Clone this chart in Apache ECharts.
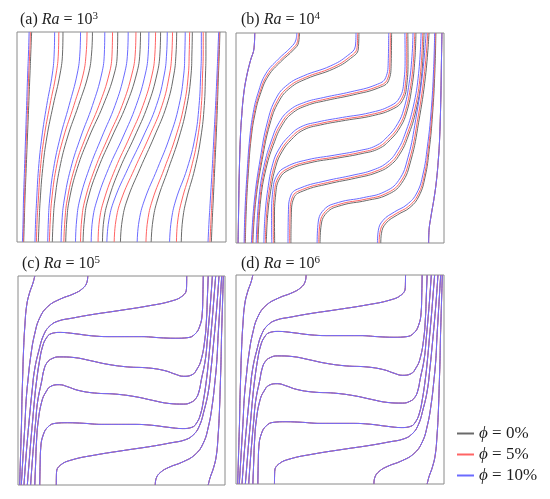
<!DOCTYPE html>
<html>
<head>
<meta charset="utf-8">
<script src="https://cdn.jsdelivr.net/npm/echarts@6/dist/echarts.min.js"></script>
<style>
html, body { margin: 0; padding: 0; background: #fff; }
#isoCharts { width: 550px; height: 499px; }
</style>
</head>
<body>
<div id="isoCharts"></div>
<script>
// panel labels
const panelTags = ['a', 'b', 'c', 'd'];
const raExponents = ['3', '4', '5', '6'];
const phiNames = ['phi0', 'phi5', 'phi10'];
const phiLabels = ['0%', '5%', '10%'];

// (a) Ra = 10^3 : heights where the x of each isotherm was read
const aLevels = [0, 0.1, 0.2, 0.35, 0.5, 0.65, 0.8, 0.9, 1];
const aPhi0 = [
  [0.032, 0.035, 0.038, 0.044, 0.050, 0.056, 0.062, 0.066, 0.070],
  [0.102, 0.106, 0.111, 0.123, 0.143, 0.173, 0.206, 0.218, 0.220],
  [0.169, 0.173, 0.181, 0.204, 0.242, 0.294, 0.342, 0.357, 0.361],
  [0.233, 0.238, 0.250, 0.288, 0.345, 0.412, 0.465, 0.480, 0.482],
  [0.316, 0.322, 0.338, 0.388, 0.454, 0.522, 0.572, 0.588, 0.591],
  [0.409, 0.415, 0.437, 0.492, 0.562, 0.626, 0.670, 0.684, 0.687],
  [0.495, 0.503, 0.527, 0.589, 0.656, 0.716, 0.751, 0.761, 0.764],
  [0.642, 0.650, 0.672, 0.725, 0.776, 0.813, 0.833, 0.837, 0.839],
  [0.786, 0.792, 0.810, 0.851, 0.880, 0.896, 0.902, 0.904, 0.904],
  [0.930, 0.934, 0.939, 0.946, 0.953, 0.959, 0.964, 0.968, 0.971]
];
const aPhi5 = [
  [0.029, 0.032, 0.035, 0.040, 0.045, 0.051, 0.056, 0.061, 0.064],
  [0.093, 0.096, 0.102, 0.112, 0.130, 0.157, 0.187, 0.198, 0.200],
  [0.155, 0.159, 0.166, 0.187, 0.223, 0.272, 0.317, 0.331, 0.335],
  [0.224, 0.229, 0.240, 0.275, 0.329, 0.392, 0.441, 0.455, 0.457],
  [0.304, 0.309, 0.325, 0.373, 0.437, 0.503, 0.550, 0.566, 0.569],
  [0.388, 0.394, 0.416, 0.471, 0.539, 0.603, 0.647, 0.660, 0.663],
  [0.465, 0.473, 0.498, 0.563, 0.632, 0.694, 0.730, 0.741, 0.744],
  [0.617, 0.625, 0.648, 0.705, 0.759, 0.799, 0.820, 0.824, 0.826],
  [0.763, 0.769, 0.789, 0.833, 0.865, 0.882, 0.888, 0.891, 0.891],
  [0.923, 0.928, 0.933, 0.941, 0.948, 0.955, 0.961, 0.965, 0.968]
];
const aPhi10 = [
  [0.026, 0.029, 0.031, 0.036, 0.041, 0.046, 0.051, 0.055, 0.058],
  [0.086, 0.089, 0.094, 0.103, 0.119, 0.142, 0.169, 0.178, 0.180],
  [0.147, 0.150, 0.156, 0.175, 0.207, 0.249, 0.288, 0.301, 0.304],
  [0.211, 0.215, 0.226, 0.257, 0.305, 0.361, 0.405, 0.418, 0.420],
  [0.280, 0.285, 0.300, 0.346, 0.406, 0.469, 0.514, 0.529, 0.532],
  [0.355, 0.361, 0.383, 0.438, 0.507, 0.570, 0.614, 0.628, 0.631],
  [0.430, 0.439, 0.465, 0.531, 0.603, 0.667, 0.705, 0.716, 0.719],
  [0.575, 0.584, 0.610, 0.672, 0.731, 0.775, 0.798, 0.803, 0.805],
  [0.730, 0.738, 0.760, 0.814, 0.852, 0.871, 0.879, 0.882, 0.882],
  [0.914, 0.919, 0.925, 0.934, 0.942, 0.950, 0.957, 0.961, 0.965]
];

// (b) Ra = 10^4 : the two wall isotherms coincide for all phi
const bWall = [
  [[0.09, 1], [0.087, 0.93], [0.069, 0.867], [0.05, 0.788], [0.037, 0.709], [0.027, 0.6], [0.021, 0.5], [0.015, 0.3], [0.012, 0.12], [0.01, 0]],
  [[0.926, 0], [0.928, 0.06], [0.938, 0.13], [0.952, 0.212], [0.963, 0.291], [0.973, 0.4], [0.979, 0.5], [0.985, 0.7], [0.988, 0.88], [0.99, 1]]
];
const bPhi0 = [
  [[0.305, 1], [0.301, 0.955], [0.277, 0.92], [0.215, 0.863], [0.155, 0.795], [0.116, 0.706], [0.092, 0.618], [0.073, 0.5], [0.059, 0.33], [0.049, 0.15], [0.045, 0]],
  [[0.591, 1], [0.588, 0.924], [0.551, 0.879], [0.468, 0.829], [0.339, 0.782], [0.261, 0.739], [0.206, 0.674], [0.163, 0.566], [0.126, 0.397], [0.095, 0.2], [0.081, 0]],
  [[0.748, 1], [0.746, 0.854], [0.734, 0.774], [0.686, 0.739], [0.566, 0.706], [0.436, 0.679], [0.339, 0.654], [0.268, 0.616], [0.221, 0.559], [0.186, 0.484], [0.145, 0.356], [0.118, 0.2], [0.106, 0]],
  [[0.826, 1], [0.827, 0.874], [0.821, 0.754], [0.801, 0.679], [0.756, 0.639], [0.656, 0.606], [0.526, 0.584], [0.406, 0.562], [0.326, 0.539], [0.268, 0.494], [0.221, 0.434], [0.191, 0.364], [0.166, 0.244], [0.151, 0.116], [0.146, 0]],
  [[0.186, 0], [0.185, 0.114], [0.191, 0.234], [0.211, 0.309], [0.256, 0.349], [0.356, 0.382], [0.486, 0.404], [0.606, 0.426], [0.686, 0.449], [0.744, 0.494], [0.791, 0.554], [0.821, 0.624], [0.846, 0.744], [0.86, 0.874], [0.865, 1]],
  [[0.264, 0], [0.266, 0.134], [0.278, 0.214], [0.326, 0.249], [0.446, 0.282], [0.576, 0.309], [0.673, 0.334], [0.744, 0.372], [0.791, 0.429], [0.826, 0.504], [0.866, 0.634], [0.892, 0.794], [0.904, 1]],
  [[0.404, 0], [0.408, 0.074], [0.436, 0.144], [0.506, 0.179], [0.626, 0.202], [0.726, 0.229], [0.796, 0.284], [0.841, 0.394], [0.878, 0.574], [0.911, 0.794], [0.928, 1]],
  [[0.696, 0], [0.699, 0.044], [0.721, 0.094], [0.776, 0.134], [0.836, 0.169], [0.88, 0.224], [0.909, 0.314], [0.929, 0.444], [0.945, 0.614], [0.956, 0.814], [0.961, 1]]
];
const bPhi5 = [
  [[0.30, 1], [0.296, 0.96], [0.272, 0.925], [0.21, 0.868], [0.15, 0.8], [0.112, 0.71], [0.088, 0.62], [0.07, 0.5], [0.056, 0.33], [0.046, 0.15], [0.042, 0]],
  [[0.585, 1], [0.582, 0.93], [0.545, 0.885], [0.462, 0.835], [0.333, 0.788], [0.255, 0.745], [0.2, 0.68], [0.158, 0.57], [0.122, 0.4], [0.092, 0.2], [0.078, 0]],
  [[0.742, 1], [0.740, 0.86], [0.728, 0.78], [0.68, 0.745], [0.56, 0.712], [0.43, 0.685], [0.333, 0.66], [0.262, 0.622], [0.215, 0.565], [0.18, 0.49], [0.14, 0.36], [0.114, 0.2], [0.102, 0]],
  [[0.82, 1], [0.821, 0.88], [0.815, 0.76], [0.795, 0.685], [0.75, 0.645], [0.65, 0.612], [0.52, 0.59], [0.40, 0.568], [0.32, 0.545], [0.262, 0.5], [0.215, 0.44], [0.185, 0.37], [0.16, 0.25], [0.146, 0.12], [0.141, 0]],
  [[0.18, 0], [0.179, 0.12], [0.185, 0.24], [0.205, 0.315], [0.25, 0.355], [0.35, 0.388], [0.48, 0.41], [0.60, 0.432], [0.68, 0.455], [0.738, 0.5], [0.785, 0.56], [0.815, 0.63], [0.84, 0.75], [0.854, 0.88], [0.859, 1]],
  [[0.258, 0], [0.26, 0.14], [0.272, 0.22], [0.32, 0.255], [0.44, 0.288], [0.57, 0.315], [0.667, 0.34], [0.738, 0.378], [0.785, 0.435], [0.82, 0.51], [0.86, 0.64], [0.886, 0.8], [0.898, 1]],
  [[0.398, 0], [0.402, 0.08], [0.43, 0.15], [0.50, 0.185], [0.62, 0.208], [0.72, 0.235], [0.79, 0.29], [0.835, 0.4], [0.872, 0.58], [0.905, 0.8], [0.922, 1]],
  [[0.688, 0], [0.692, 0.05], [0.715, 0.1], [0.77, 0.14], [0.83, 0.175], [0.875, 0.23], [0.905, 0.32], [0.925, 0.45], [0.942, 0.62], [0.953, 0.82], [0.958, 1]]
];
const bPhi10 = [
  [[0.292, 1], [0.288, 0.967], [0.264, 0.932], [0.203, 0.875], [0.143, 0.806], [0.106, 0.714], [0.083, 0.622], [0.066, 0.5], [0.053, 0.33], [0.043, 0.15], [0.039, 0]],
  [[0.577, 1], [0.574, 0.938], [0.537, 0.893], [0.454, 0.843], [0.325, 0.796], [0.247, 0.753], [0.192, 0.688], [0.151, 0.576], [0.117, 0.404], [0.088, 0.2], [0.074, 0]],
  [[0.734, 1], [0.732, 0.868], [0.72, 0.788], [0.672, 0.753], [0.552, 0.72], [0.422, 0.693], [0.325, 0.668], [0.254, 0.63], [0.207, 0.573], [0.173, 0.496], [0.134, 0.364], [0.109, 0.2], [0.097, 0]],
  [[0.812, 1], [0.813, 0.888], [0.807, 0.768], [0.787, 0.693], [0.742, 0.653], [0.642, 0.62], [0.512, 0.598], [0.392, 0.576], [0.312, 0.553], [0.254, 0.508], [0.207, 0.448], [0.177, 0.378], [0.153, 0.256], [0.139, 0.124], [0.134, 0]],
  [[0.172, 0], [0.171, 0.128], [0.177, 0.248], [0.197, 0.323], [0.242, 0.363], [0.342, 0.396], [0.472, 0.418], [0.592, 0.44], [0.672, 0.463], [0.73, 0.508], [0.777, 0.568], [0.807, 0.638], [0.832, 0.758], [0.846, 0.888], [0.851, 1]],
  [[0.25, 0], [0.252, 0.148], [0.264, 0.228], [0.312, 0.263], [0.432, 0.296], [0.562, 0.323], [0.659, 0.348], [0.73, 0.386], [0.777, 0.443], [0.812, 0.518], [0.852, 0.648], [0.878, 0.808], [0.89, 1]],
  [[0.39, 0], [0.394, 0.088], [0.422, 0.158], [0.492, 0.193], [0.612, 0.216], [0.712, 0.243], [0.782, 0.298], [0.827, 0.408], [0.864, 0.588], [0.897, 0.808], [0.914, 1]],
  [[0.68, 0], [0.684, 0.058], [0.707, 0.108], [0.762, 0.148], [0.822, 0.183], [0.869, 0.238], [0.899, 0.328], [0.92, 0.458], [0.938, 0.626], [0.95, 0.826], [0.955, 1]]
];

// (c) Ra = 10^5 and (d) Ra = 10^6 : the three phi lines lie on top of each other
const highRaLines = [
  [[0.081, 1], [0.072, 0.965], [0.056, 0.92], [0.042, 0.86], [0.033, 0.76], [0.027, 0.65], [0.022, 0.5], [0.019, 0.4], [0.017, 0.3], [0.014, 0.2], [0.011, 0.1], [0.008, 0]],
  [[0.337, 1], [0.333, 0.97], [0.312, 0.94], [0.27, 0.915], [0.205, 0.89], [0.145, 0.855], [0.105, 0.8], [0.08, 0.72], [0.062, 0.62], [0.048, 0.5], [0.039, 0.4], [0.034, 0.3], [0.028, 0.2], [0.022, 0.1], [0.016, 0]],
  [[0.815, 1], [0.814, 0.94], [0.795, 0.905], [0.74, 0.88], [0.63, 0.857], [0.484, 0.834], [0.355, 0.815], [0.26, 0.798], [0.196, 0.785], [0.155, 0.762], [0.125, 0.72], [0.1, 0.64], [0.08, 0.55], [0.068, 0.45], [0.056, 0.33], [0.044, 0.2], [0.036, 0.1], [0.029, 0]],
  [[0.895, 1], [0.893, 0.9], [0.89, 0.82], [0.878, 0.76], [0.855, 0.722], [0.82, 0.705], [0.76, 0.702], [0.68, 0.705], [0.597, 0.71], [0.5, 0.71], [0.435, 0.71], [0.355, 0.714], [0.274, 0.724], [0.205, 0.73], [0.16, 0.724], [0.135, 0.7], [0.118, 0.66], [0.105, 0.6], [0.09, 0.5], [0.079, 0.4], [0.07, 0.3], [0.061, 0.2], [0.053, 0.1], [0.045, 0]],
  [[0.919, 1], [0.915, 0.9], [0.911, 0.8], [0.903, 0.7], [0.885, 0.6], [0.865, 0.555], [0.84, 0.527], [0.8, 0.52], [0.76, 0.53], [0.71, 0.547], [0.63, 0.56], [0.53, 0.565], [0.43, 0.578], [0.35, 0.595], [0.27, 0.61], [0.2, 0.613], [0.165, 0.605], [0.14, 0.585], [0.125, 0.55], [0.115, 0.5], [0.095, 0.4], [0.085, 0.3], [0.076, 0.2], [0.068, 0.1], [0.061, 0]],
  [[0.939, 1], [0.932, 0.9], [0.924, 0.8], [0.915, 0.7], [0.905, 0.6], [0.885, 0.5], [0.875, 0.45], [0.86, 0.415], [0.835, 0.395], [0.8, 0.387], [0.73, 0.39], [0.65, 0.405], [0.57, 0.422], [0.47, 0.435], [0.37, 0.44], [0.29, 0.453], [0.24, 0.47], [0.2, 0.48], [0.16, 0.473], [0.135, 0.445], [0.115, 0.4], [0.097, 0.3], [0.089, 0.2], [0.085, 0.1], [0.081, 0]],
  [[0.955, 1], [0.947, 0.9], [0.939, 0.8], [0.93, 0.7], [0.921, 0.6], [0.91, 0.5], [0.895, 0.4], [0.882, 0.34], [0.865, 0.3], [0.84, 0.276], [0.795, 0.27], [0.726, 0.276], [0.645, 0.286], [0.565, 0.29], [0.5, 0.29], [0.403, 0.29], [0.32, 0.295], [0.24, 0.298], [0.18, 0.295], [0.145, 0.278], [0.122, 0.24], [0.11, 0.18], [0.107, 0.1], [0.105, 0]],
  [[0.971, 1], [0.964, 0.9], [0.956, 0.8], [0.944, 0.67], [0.932, 0.55], [0.92, 0.45], [0.9, 0.36], [0.875, 0.28], [0.845, 0.238], [0.804, 0.215], [0.74, 0.202], [0.645, 0.185], [0.516, 0.166], [0.37, 0.143], [0.26, 0.12], [0.205, 0.095], [0.186, 0.06], [0.185, 0]],
  [[0.984, 1], [0.978, 0.9], [0.972, 0.8], [0.966, 0.7], [0.961, 0.6], [0.952, 0.5], [0.938, 0.38], [0.92, 0.28], [0.895, 0.2], [0.855, 0.145], [0.795, 0.11], [0.73, 0.085], [0.688, 0.06], [0.667, 0.03], [0.663, 0]],
  [[0.992, 1], [0.989, 0.9], [0.986, 0.8], [0.983, 0.7], [0.981, 0.6], [0.978, 0.5], [0.973, 0.35], [0.967, 0.24], [0.958, 0.14], [0.944, 0.08], [0.928, 0.035], [0.919, 0]]
];

// colours for phi = 0, 5, 10 %
const phiColors = ['#6a6a6a', '#ff6464', '#6b6bff'];

const myChart = echarts.init(document.getElementById('isoCharts'));

function isoSeries(panel, phi, pts) {
  return {
    name: phiNames[phi],
    type: 'line',
    xAxisIndex: panel,
    yAxisIndex: panel,
    data: pts,
    smooth: 0.45,
    symbol: 'none',
    silent: true,
    lineStyle: { color: phiColors[phi], width: 1 },
    itemStyle: { color: phiColors[phi] },
    z: 2 + phi
  };
}

let series = [];
// (a)
[aPhi0, aPhi5, aPhi10].forEach((lines, phi) => {
  lines.forEach(xs => {
    series.push(isoSeries(0, phi, aLevels.map((y, i) => [xs[i], y])));
  });
});
// (b)
[bPhi0, bPhi5, bPhi10].forEach((lines, phi) => {
  bWall.concat(lines).forEach(pts => series.push(isoSeries(1, phi, pts)));
});
// (c), (d)
[2, 3].forEach(panel => {
  [0, 1, 2].forEach(phi => {
    highRaLines.forEach(pts => series.push(isoSeries(panel, phi, pts)));
  });
});

const grids = [
  { left: 17, top: 32, width: 209, height: 210 },
  { left: 236, top: 33, width: 208, height: 210 },
  { left: 18, top: 276, width: 207, height: 209 },
  { left: 236, top: 275, width: 208, height: 209 }
];

function panelTitle(i, x, y) {
  return {
    type: 'text', left: x, top: y, silent: true,
    style: {
      text: '(' + panelTags[i] + ') {i|Ra} = 10{s|' + raExponents[i] + '}',
      fontFamily: 'Liberation Serif', fontSize: 16, lineHeight: 18, fill: '#1e1e1e',
      rich: {
        i: { fontStyle: 'italic', fontFamily: 'Liberation Serif', fontSize: 16, lineHeight: 18 },
        s: { fontFamily: 'Liberation Serif', fontSize: 11, verticalAlign: 'top', lineHeight: 12 }
      }
    }
  };
}

let option = {
  animation: false,
  backgroundColor: '#fff',
  grid: grids.map(g => Object.assign({ show: true, borderColor: '#8a8a8a', borderWidth: 1, backgroundColor: 'transparent' }, g)),
  xAxis: grids.map((g, i) => ({ gridIndex: i, type: 'value', min: 0, max: 1, show: false })),
  yAxis: grids.map((g, i) => ({ gridIndex: i, type: 'value', min: 0, max: 1, show: false })),
  legend: {
    data: phiNames,
    orient: 'vertical',
    left: 452,
    top: 420,
    icon: 'rect',
    itemWidth: 17,
    itemHeight: 2,
    itemGap: 4,
    formatter: name => '{i|ϕ} = ' + phiLabels[phiNames.indexOf(name)],
    textStyle: {
      fontFamily: 'Liberation Serif', fontSize: 17, lineHeight: 17, color: '#1e1e1e',
      rich: { i: { fontStyle: 'italic', fontFamily: 'Liberation Serif', fontSize: 17, lineHeight: 17 } }
    }
  },
  graphic: [
    panelTitle(0, 20, 11),
    panelTitle(1, 241, 11),
    panelTitle(2, 22, 255),
    panelTitle(3, 241, 255)
  ],
  series: series
};
myChart.setOption(option);
</script>
</body>
</html>
